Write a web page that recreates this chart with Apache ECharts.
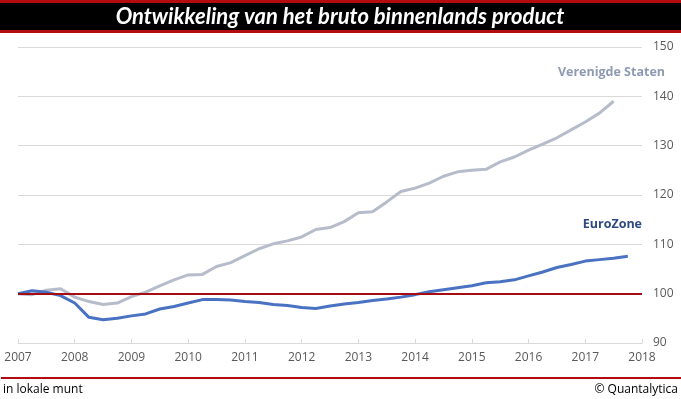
<!DOCTYPE html>
<html>
<head>
<meta charset="utf-8">
<script src="https://cdn.jsdelivr.net/npm/echarts@6/dist/echarts.min.js"></script>
<style>
html,body{margin:0;padding:0;background:#fff}
#chart{width:681px;height:399px}
</style>
</head>
<body>
<div id="chart"></div>
<script>
// kwartalen 2007K1 .. 2018K1 (laatste alleen voor de as)
var quarters = []
for (var y = 2007; y <= 2018; y++) {
    for (var q = 1; q <= 4; q++) {
        if (y == 2018 && q > 1) break
        quarters.push(y + 'Q' + q)
    }
}

// index, 2007K1 = 100
var usValues = [100, 99.8, 100.7, 101.0, 99.3, 98.4, 97.8, 98.1, 99.4, 100.3,
    101.6, 102.8, 103.8, 103.9, 105.5, 106.3, 107.7, 109.1, 110.1, 110.7,
    111.5, 113.0, 113.4, 114.6, 116.4, 116.6, 118.6, 120.7, 121.4, 122.4,
    123.8, 124.7, 125.0, 125.2, 126.7, 127.7, 129.1, 130.3, 131.6, 133.2,
    134.8, 136.6, 139.0]
var ezValues = [100, 100.6, 100.3, 99.6, 98.1, 95.2, 94.7, 95.0, 95.5, 95.9,
    96.9, 97.4, 98.1, 98.8, 98.8, 98.7, 98.4, 98.2, 97.8, 97.6,
    97.2, 97.0, 97.5, 97.9, 98.2, 98.6, 98.9, 99.3, 99.8, 100.4,
    100.8, 101.2, 101.6, 102.2, 102.4, 102.8, 103.6, 104.4, 105.3, 105.9,
    106.6, 106.9, 107.2, 107.6]

var yTicks = {min: 90, max: 150, step: 10}
var baseLevel = 100

var chart = echarts.init(document.getElementById('chart'))
var option = {
    animation: false,
    backgroundColor: '#fff',
    grid: {left: 18, right: 39, top: 47, bottom: 56},
    xAxis: {
        type: 'category',
        boundaryGap: false,
        data: quarters,
        axisLine: {lineStyle: {color: '#d9d9d9', width: 1}},
        axisTick: {inside: true, length: 4, interval: 3, lineStyle: {color: '#d9d9d9'}},
        axisLabel: {
            interval: 3,
            margin: 9,
            color: '#595959',
            fontFamily: 'Open Sans',
            fontSize: 12,
            formatter: function (v) { return v.slice(0, 4) }
        },
        splitLine: {show: false}
    },
    yAxis: {
        type: 'value',
        position: 'right',
        min: yTicks.min,
        max: yTicks.max,
        interval: yTicks.step,
        axisLine: {show: false},
        axisTick: {show: false},
        axisLabel: {margin: 11, color: '#595959', fontFamily: 'Open Sans', fontSize: 12},
        splitLine: {lineStyle: {color: '#d9d9d9', width: 1}}
    },
    series: [
        {
            name: 'Verenigde Staten',
            type: 'line',
            data: usValues,
            symbol: 'none',
            lineStyle: {color: '#b7bccb', width: 3},
            z: 2
        },
        {
            name: 'EuroZone',
            type: 'line',
            data: ezValues,
            symbol: 'none',
            lineStyle: {color: '#4a72c2', width: 3},
            z: 3,
            markLine: {
                silent: true,
                symbol: 'none',
                label: {show: false},
                lineStyle: {color: '#a50d12', width: 2, type: 'solid'},
                data: [{yAxis: baseLevel}]
            }
        }
    ],
    graphic: [
        {type: 'rect', shape: {x: 0, y: 0, width: 681, height: 33}, style: {fill: '#b30b10'}},
        {type: 'rect', shape: {x: 0, y: 3, width: 681, height: 27}, style: {fill: '#000'}},
        {type: 'text', x: 340, y: 17, style: {
            text: 'Ontwikkeling van het bruto binnenlands product',
            fill: '#fff', font: 'italic bold 22px Lato', align: 'center', verticalAlign: 'middle'}},
        {type: 'text', x: 665, y: 72, style: {
            text: 'Verenigde Staten', fill: '#8e9ab3', font: 'bold 12.5px "Open Sans"',
            align: 'right', verticalAlign: 'middle'}},
        {type: 'text', x: 642, y: 224, style: {
            text: 'EuroZone', fill: '#2e4a80', font: 'bold 12.5px "Open Sans"',
            align: 'right', verticalAlign: 'middle'}},
        {type: 'rect', shape: {x: 1, y: 377, width: 680, height: 2}, style: {fill: '#b30b10'}},
        {type: 'text', x: 3, y: 390, style: {
            text: 'in lokale munt', fill: '#000', font: '12px "Open Sans"',
            align: 'left', verticalAlign: 'middle'}},
        {type: 'text', x: 678, y: 390, style: {
            text: '\u00a9 Quantalytica', fill: '#000', font: '12px "Open Sans"',
            align: 'right', verticalAlign: 'middle'}}
    ]
}
chart.setOption(option)
</script>
</body>
</html>
